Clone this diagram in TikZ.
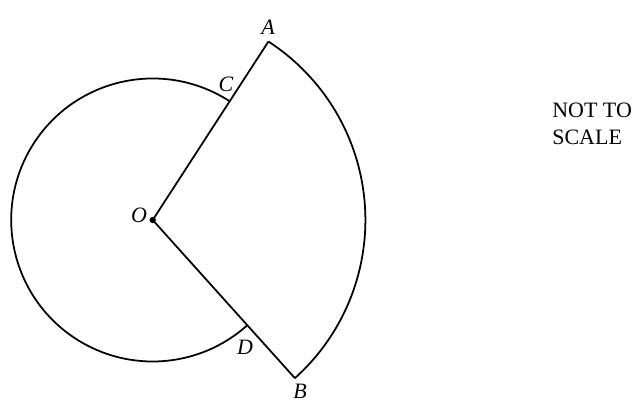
\documentclass[tikz,border=0pt]{standalone}
\usepackage{fontspec}
\setmainfont{Liberation Serif}
\usetikzlibrary{calc}

\begin{document}
\begin{tikzpicture}[
    x=0.02cm, y=0.02cm,
    edge/.style={line width=1pt, line join=miter},
    pt/.style={font=\fontsize{12.5}{14}\selectfont\itshape},
    note/.style={font=\fontsize{12.5}{15.3}\selectfont, align=left, anchor=north west, inner sep=0pt}
  ]
    \useasboundingbox (0,0) rectangle (644,-405);

    %=== radii and angles ===%
    \def\rbig{212.7}
    \def\rsmall{141.5}
    \def\angA{57.04}
    \def\angB{-48.04}

    %=== points ===%
    \coordinate (O) at (152.7,-220);
    \coordinate (A) at ($(O)+(\angA:\rbig)$);
    \coordinate (B) at ($(O)+(\angB:\rbig)$);
    \coordinate (C) at ($(O)+(\angA:\rsmall)$);
    \coordinate (D) at ($(O)+(\angB:\rsmall)$);

    %=== sector and circle ===%
    \draw[edge] (A) -- (O) -- (B);
    \draw[edge] (B) arc[start angle=\angB, end angle=\angA, radius=\rbig];
    \draw[edge] (C) arc[start angle=\angA, end angle=360+\angB, radius=\rsmall];
    \fill (O) circle (1.8pt);

    % labels
    \node[pt] (lA) at (268,-27) {A};
    \node[pt] (lB) at (300,-391) {B};
    \node[pt] (lC) at (226,-84) {C};
    \node[pt] (lD) at (245,-347) {D};
    \node[pt] (lO) at (139,-215) {O};

    \node[note] (ns) at (552,-103) {NOT TO\\SCALE};

\end{tikzpicture}
\end{document}
